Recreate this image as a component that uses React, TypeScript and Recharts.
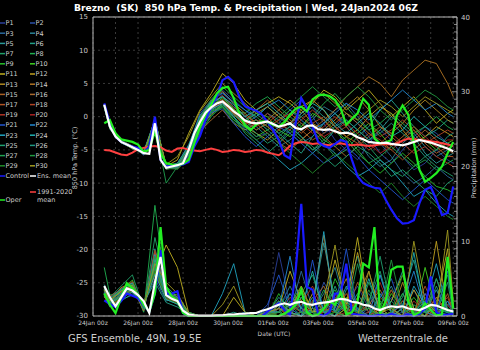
import React from 'react';
import { ComposedChart, Line, XAxis, YAxis, CartesianGrid, ReferenceLine } from 'recharts';

// 6-hourly steps (hours after 24Jan 00z) for the highlighted runs
const HOURS = Array.from({ length: 63 }, (_, i) => 12 + i * 6);
// members are stored 12-hourly
const MEMBER_HOURS = [12, 18, 30, 42, 54, 66, 78, 90, 102, 114, 126, 138, 150, 162, 174, 186, 198, 210, 222, 234, 246, 258, 270, 282, 294, 306, 318, 330, 342, 354, 366, 378, 384];

const DAY_TICKS = [0, 24, 48, 72, 96, 120, 144, 168, 192, 216, 240, 264, 288, 312, 336, 360, 384];
const DATE_LABELS = ['24Jan 00z', '26Jan 00z', '28Jan 00z', '30Jan 00z', '01Feb 00z', '03Feb 00z', '05Feb 00z', '07Feb 00z', '09Feb 00z'];
const TEMP_TICKS = [-30, -25, -20, -15, -10, -5, 0, 5, 10, 15];
const PRECIP_TICKS = Array.from({ length: 41 }, (_, i) => i);

const MEMBER_COLORS = [
  '#2a3f9a', '#2a50a8', '#2a6a9c', '#2a8496', '#2a9a98', '#22a088', '#20a068', '#20b050', '#28c02a', '#40d020',
  '#c0b020', '#c0a020', '#b08a22', '#b07424', '#a86024', '#a86a30', '#b05424', '#b04424', '#b03424', '#a82222',
  '#2256d0', '#2288d0', '#20a4c0', '#20b0b0', '#20a070', '#209880', '#20a050', '#209840', '#208a28', '#a09a20',
];

// 850 hPa temperature, highlighted runs (6-hourly)
const T_CTRL = [2.0, -1.0, -3.0, -3.8, -4.2, -4.5, -4.7, -5.5, -4.5, 0.0, -6.5, -7.5, -7.4, -7.3, -7.2, -6.8, -4.5, -2.9, -0.5, 1.5, 3.0, 5.5, 6.0, 5.2, 3.0, 1.6, 1.2, 0.9, 0.3, -0.8, -2.0, -3.5, -5.8, -6.3, -1.0, 2.8, 1.3, -1.5, -3.8, -4.4, -4.7, -4.1, -3.5, -3.8, -6.5, -9.0, -10.0, -10.4, -10.7, -10.8, -12.5, -14.0, -15.3, -16.1, -16.0, -15.6, -13.0, -11.0, -10.6, -12.5, -14.8, -14.5, -10.5];
const T_OPER = [-1.0, -0.5, -2.5, -3.4, -3.6, -3.8, -4.2, -5.3, -5.0, -2.2, -5.5, -7.0, -7.2, -7.3, -7.1, -6.5, -4.0, -1.5, 0.3, 1.8, 3.5, 4.3, 4.5, 2.8, 0.5, -1.3, -2.0, -1.2, -0.7, -0.8, -1.2, -1.5, -0.8, 0.3, 1.2, 1.5, 0.8, 2.6, 3.2, 3.3, 3.1, 2.5, 1.2, -1.2, -0.3, 0.5, 2.7, 1.8, -3.3, -4.0, -3.9, -3.5, 0.2, 1.7, 0.3, -4.0, -8.0, -9.8, -9.2, -8.5, -7.5, -5.5, -3.8];
const T_MEAN = [1.8, -1.5, -3.0, -3.8, -4.2, -4.6, -5.0, -5.5, -5.6, -1.0, -6.5, -7.7, -7.5, -7.3, -7.0, -5.0, -2.5, -0.8, 0.6, 1.4, 2.0, 2.3, 1.6, 0.8, 0.2, -0.6, -0.9, -1.0, -0.9, -0.7, -1.1, -1.5, -1.3, -1.0, -1.7, -1.9, -1.4, -1.3, -1.9, -2.0, -1.9, -2.2, -2.5, -2.4, -2.6, -3.1, -3.4, -3.8, -3.9, -4.0, -3.9, -4.1, -4.2, -4.3, -4.1, -3.8, -3.5, -3.7, -3.9, -4.2, -4.5, -4.8, -5.2];
const T_CLIM = [-5.0, -5.1, -5.4, -5.7, -5.8, -5.4, -4.9, -4.7, -4.5, -4.4, -4.6, -5.1, -5.3, -4.8, -4.7, -5.0, -5.1, -5.2, -5.0, -4.8, -5.0, -5.3, -5.2, -5.0, -5.1, -5.3, -5.2, -5.0, -5.1, -5.4, -5.6, -5.8, -5.2, -4.4, -4.0, -3.8, -3.9, -4.1, -4.0, -4.2, -4.3, -4.1, -4.0, -4.2, -4.3, -4.2, -4.3, -4.4, -4.3, -4.2, -4.1, -4.2, -4.0, -3.6, -3.3, -3.4, -3.5, -3.6, -3.7, -3.8, -4.0, -4.2, -4.4];

// precipitation (mm), highlighted runs (6-hourly)
const P_CTRL = [2.1, 1.6, 1.2, 2.0, 3.0, 2.7, 2.4, 1.4, 0.6, 3.0, 8.8, 3.0, 3.0, 3.3, 0.4, 0, 0, 0, 0, 0, 0, 0, 0, 0, 0, 0, 0, 0, 0, 0.6, 1.2, 1.7, 0.8, 0.1, 6.0, 15.0, 3.9, 3.5, 0.3, 0, 0.5, 3.0, 3.0, 7.0, 0.3, 0.2, 0.1, 0, 0, 0.2, 0, 0.3, 0, 0, 0.2, 0, 0.3, 1.0, 5.3, 0.5, 0.1, 0.2, 0.3];
const P_OPER = [3.0, 1.5, 0.4, 2.5, 4.4, 3.7, 2.8, 1.5, 0.6, 3.0, 11.9, 3.9, 2.6, 2.0, 0.4, 0, 0, 0, 0, 0, 0, 0, 0, 0, 0, 0, 0, 0, 0, 0, 0, 0, 0.3, 0.8, 1.5, 3.5, 0.5, 0, 0.2, 1.0, 2.0, 1.5, 3.2, 0.2, 0.5, 2.0, 7.0, 6.5, 11.9, 0.3, 2.0, 6.2, 6.6, 6.6, 2.0, 0.1, 0.5, 1.7, 0.8, 0.1, 0.2, 7.9, 1.0];
const P_MEAN = [4.0, 2.5, 1.3, 2.5, 3.7, 3.4, 2.8, 2.0, 0.4, 4.5, 7.9, 2.8, 2.3, 2.0, 0.7, 0.2, 0.1, 0.05, 0.05, 0.05, 0.1, 0.1, 0.2, 0.2, 0.3, 0.3, 0.4, 0.4, 0.7, 0.9, 1.2, 1.5, 1.7, 1.5, 1.8, 1.9, 1.6, 1.5, 1.7, 1.8, 1.9, 2.1, 2.3, 2.2, 1.9, 1.8, 1.5, 1.4, 1.0, 0.8, 1.1, 1.3, 1.2, 1.3, 1.0, 0.9, 0.8, 1.1, 1.5, 1.4, 1.1, 0.8, 0.6];

// 850 hPa temperature, members P1..P30 (12-hourly)
const TEMP_MEMBERS = [
  [1.5, -1.8, -3.6, -4.4, -5.8, -1.5, -7.5, -7.8, -6.0, -2.0, 1.0, 3.5, 2.0, -1.5, -3.0, -2.5, -4.0, -2.0, 0.5, 1.5, -1.0, -3.5, -5.0, -6.5, -4.0, -2.0, -3.5, -6.0, -8.0, -7.0, -5.0, -6.5, -7.0],
  [1.9, -1.2, -3.9, -4.8, -5.2, -0.5, -7.9, -7.0, -4.5, 0.5, 2.5, 4.0, 2.5, 1.0, -0.5, -2.0, -1.0, 1.0, 2.5, 0.0, -2.5, -1.5, 0.5, -1.0, -3.0, -5.5, -7.0, -5.0, -3.0, -1.5, -2.5, -4.0, -4.5],
  [1.6, -1.6, -3.7, -4.5, -5.6, -2.0, -7.6, -7.5, -5.5, -1.5, 0.5, 1.5, -0.5, -2.0, -1.0, 0.5, -0.5, -2.5, -4.0, -3.0, -1.0, 1.0, 2.0, 0.0, -2.0, -4.0, -6.0, -8.5, -10.0, -9.0, -7.5, -9.0, -9.5],
  [1.7, -1.4, -3.9, -4.7, -5.4, -0.8, -7.8, -7.2, -4.8, -0.5, 2.0, 3.0, 1.5, 0.0, -1.5, -3.0, -4.5, -3.5, -2.0, -0.5, 1.5, 0.5, -1.5, -3.5, -6.0, -7.5, -6.5, -4.0, -2.5, -4.5, -6.0, -5.0, -4.0],
  [1.8, -1.3, -3.8, -4.6, -5.5, -1.2, -7.3, -7.6, -5.8, -1.2, 1.2, 2.0, 0.5, -1.0, 0.0, 1.5, 0.0, -1.5, -3.0, -5.0, -4.0, -2.0, -0.5, -2.0, -3.5, -2.0, 0.0, -1.5, -3.0, -5.5, -7.0, -6.0, -5.5],
  [1.4, -1.9, -4.0, -4.4, -5.7, -0.3, -7.7, -7.1, -4.2, 0.0, 2.2, 3.0, 1.0, -0.5, -2.0, -1.0, -2.5, -4.0, -5.5, -3.0, -1.0, 0.5, -1.0, -3.0, -1.5, 1.0, 2.5, 0.5, -1.5, -3.0, -2.0, -0.5, -1.0],
  [1.9, -1.1, -3.6, -4.9, -5.3, -1.7, -7.4, -7.9, -6.3, -2.5, 0.0, 1.8, 0.0, -2.5, -4.0, -5.5, -4.0, -2.5, -1.0, -2.0, -4.0, -6.0, -5.0, -3.0, -4.5, -6.5, -8.0, -9.0, -7.5, -6.0, -7.5, -8.5, -9.0],
  [1.6, -1.7, -3.8, -4.6, -5.5, -0.6, -7.6, -7.4, -5.2, -1.0, 1.8, 2.5, 1.0, 0.5, 2.0, 3.0, 1.5, 0.0, -1.5, 0.0, 2.0, 3.5, 1.5, -0.5, -2.0, -1.0, 0.5, -1.0, -2.5, -1.5, 0.0, -1.5, -2.0],
  [1.7, -1.5, -3.7, -4.5, -5.6, -1.4, -7.8, -7.5, -5.6, -1.8, 0.8, 1.5, -0.5, -1.5, -3.0, -2.0, -0.5, 1.0, 0.0, -1.5, -3.5, -4.5, -3.0, -5.0, -7.0, -8.5, -7.0, -5.5, -7.0, -9.0, -10.5, -11.0, -11.5],
  [1.5, -1.6, -3.9, -4.7, -5.4, -0.9, -7.7, -7.3, -4.9, -0.6, 1.6, 2.8, 1.2, -0.8, 0.5, 0.0, -2.0, -3.0, -1.5, 0.5, -0.5, -2.0, -4.0, -2.5, -1.0, -2.5, -4.5, -3.0, -1.5, -3.5, -5.0, -4.0, -3.5],
  [1.8, -1.4, -3.7, -4.5, -5.5, -0.7, -7.5, -6.5, -2.5, 1.0, 3.5, 6.5, 5.0, 2.5, 1.0, 2.0, 3.0, 2.0, 0.5, 2.0, 4.0, 3.0, 1.0, 2.5, 4.0, 2.0, 0.0, 1.5, 3.0, 1.0, -1.0, 0.5, 1.0],
  [1.6, -1.5, -3.8, -4.8, -5.3, -1.1, -7.4, -7.7, -5.7, -1.6, 0.3, 2.0, 0.5, -1.5, -2.5, -3.5, -2.0, 0.0, 1.5, 2.5, 1.0, -1.5, -3.0, -2.0, 0.0, 1.5, 0.5, -2.0, -4.0, -3.0, -1.5, -2.5, -3.0],
  [1.9, -1.3, -3.6, -4.4, -5.7, -0.4, -7.6, -7.2, -4.6, -0.2, 2.4, 3.8, 2.0, 0.5, -1.0, -0.5, 1.0, 2.5, 1.0, -1.0, -2.0, -0.5, 1.5, 3.0, 1.0, -1.5, -2.5, -1.0, 1.0, 2.5, 1.0, -0.5, -1.0],
  [1.7, -1.7, -3.9, -4.6, -5.5, -1.3, -7.9, -7.6, -5.4, -1.4, 1.0, 2.2, 0.2, -1.0, -0.5, -1.5, -3.0, -4.5, -3.5, -2.0, -0.5, 1.0, 3.0, 4.5, 6.0, 5.0, 3.0, 5.5, 7.0, 8.5, 8.0, 5.0, 3.0],
  [1.5, -1.8, -3.7, -4.5, -5.6, -0.8, -7.3, -7.4, -5.1, -0.9, 1.5, 2.6, 1.0, -0.5, 1.0, 2.5, 1.0, -0.5, -2.0, -3.5, -2.5, -1.0, 0.5, -1.0, -2.5, -4.0, -5.0, -3.5, -2.0, -4.0, -5.5, -4.5, -4.0],
  [1.8, -1.2, -3.8, -4.7, -5.4, -1.6, -7.7, -7.8, -6.1, -2.2, -0.5, 1.0, -1.0, -2.0, -1.0, -2.5, -4.0, -5.0, -3.5, -2.0, -3.0, -4.5, -6.0, -4.5, -3.0, -1.5, -3.0, -4.5, -3.5, -2.0, -3.5, -5.0, -5.5],
  [1.6, -1.4, -3.6, -4.6, -5.5, -0.6, -7.5, -7.3, -5.0, -0.7, 1.7, 2.4, 0.6, -0.8, -2.0, -1.0, 0.5, -1.0, -2.5, -1.0, 0.0, -1.5, -3.0, -4.0, -2.5, -3.5, -5.0, -6.5, -5.0, -3.5, -4.5, -6.0, -6.0],
  [1.9, -1.6, -3.9, -4.5, -5.6, -1.0, -7.6, -7.1, -4.7, -0.4, 1.9, 3.2, 1.4, 0.2, -1.0, 0.5, -1.0, -2.0, -0.5, 1.0, -0.5, -2.5, -1.5, 0.5, -1.0, -3.0, -2.0, -0.5, -2.0, -4.0, -3.0, -2.0, -2.5],
  [1.7, -1.5, -3.7, -4.6, -5.4, -1.2, -7.4, -7.5, -5.3, -1.1, 1.3, 2.1, 0.4, -1.2, -0.5, -1.5, -0.5, 0.5, -1.0, -2.5, -1.5, 0.0, -1.5, -3.5, -5.0, -4.0, -2.5, -4.0, -5.5, -4.5, -6.0, -7.0, -7.5],
  [1.6, -1.3, -3.8, -4.8, -5.5, -0.9, -7.7, -7.4, -5.1, -0.8, 1.5, 2.5, 0.9, -0.6, -1.5, -0.5, -2.0, -1.0, 0.0, -1.5, -3.0, -2.0, -1.0, -2.5, -4.0, -5.5, -4.5, -3.0, -1.5, -3.0, -4.5, -3.5, -3.5],
  [1.8, -1.6, -3.9, -4.5, -5.7, -1.5, -7.8, -7.7, -5.9, -2.0, 0.6, 1.2, -1.0, -3.0, -4.5, -3.0, -1.5, -2.5, -4.0, -5.5, -7.0, -6.0, -4.5, -6.0, -8.0, -9.5, -11.0, -12.5, -11.0, -9.5, -11.0, -12.5, -13.0],
  [1.5, -1.7, -3.6, -4.6, -5.4, -0.7, -7.4, -7.0, -4.4, 0.2, 2.3, 3.6, 2.2, 1.0, 0.0, 1.5, 2.5, 1.0, -0.5, -2.0, -1.0, 0.5, 2.0, 1.0, -0.5, 1.0, 2.5, 4.0, 2.5, 1.0, 2.0, 0.5, 0.0],
  [1.7, -1.4, -3.7, -4.7, -5.6, -1.1, -7.6, -7.5, -5.4, -1.3, 1.1, 2.0, 0.0, -1.8, -3.5, -5.0, -6.5, -8.0, -7.0, -5.5, -4.0, -5.5, -7.5, -9.0, -8.0, -6.5, -8.0, -10.0, -12.0, -11.0, -13.0, -14.5, -15.0],
  [1.6, -1.5, -3.8, -4.5, -5.5, -0.5, -7.5, -7.2, -4.8, -0.3, 2.1, 3.0, 1.8, 0.0, 1.0, 2.0, 0.5, -1.0, 0.5, 2.0, 1.0, -1.0, -2.5, -1.0, 0.5, -1.0, -3.0, -2.0, 0.0, -1.5, -3.0, -4.0, -4.5],
  [1.9, -1.2, -3.9, -4.6, -5.3, -1.3, -7.9, -7.6, -5.5, -1.5, 0.9, 1.8, 0.3, -1.0, -2.5, -4.0, -3.0, -1.5, -3.0, -4.5, -6.0, -7.5, -6.0, -4.5, -5.5, -7.0, -9.0, -8.0, -9.5, -11.0, -12.0, -10.0, -9.5],
  [1.7, -1.6, -3.7, -4.7, -5.6, -0.8, -7.6, -7.3, -5.1, -0.9, 1.4, 2.4, 0.8, -0.5, 0.5, -1.0, -2.5, -1.5, 0.0, 1.5, 0.0, -1.5, -0.5, -2.0, -3.5, -2.5, -1.0, -2.5, -4.0, -6.0, -5.0, -3.0, -2.5],
  [1.6, -1.4, -3.8, -4.5, -5.4, -1.4, -10.0, -7.5, -5.6, -1.9, 0.7, 1.6, -0.2, -1.6, -0.5, -2.0, -3.5, -2.0, -3.5, -5.0, -3.5, -2.0, -3.5, -5.5, -7.0, -6.0, -4.5, -6.0, -7.5, -6.5, -8.0, -7.0, -6.5],
  [1.8, -1.5, -3.9, -4.8, -5.5, -0.6, -7.4, -7.1, -4.6, -0.1, 2.6, 4.5, 3.0, 1.5, 0.0, -1.5, 0.0, 1.5, 3.0, 4.5, 3.0, 1.5, 3.0, 4.5, 3.0, 1.0, -0.5, 1.0, 2.5, 4.0, 3.0, 1.5, 1.0],
  [1.5, -1.7, -3.6, -4.4, -5.7, -1.8, -7.8, -7.9, -6.2, -2.4, 0.2, 1.4, -0.8, -2.2, -3.5, -2.5, -4.0, -5.5, -7.0, -8.5, -7.0, -5.5, -7.0, -8.5, -10.0, -11.5, -10.0, -12.0, -13.5, -12.0, -13.5, -15.0, -15.5],
  [1.8, -1.3, -3.8, -4.6, -5.4, -0.9, -7.2, -6.0, -3.0, 0.8, 3.0, 5.0, 3.5, 2.0, 0.5, 1.5, 0.0, -1.0, 1.0, 2.5, 3.5, 2.0, 0.5, -0.5, 1.0, 2.5, 1.5, 0.0, 1.5, 3.0, 2.0, 1.0, 0.5],
];

// precipitation (mm), members P1..P30 (12-hourly)
const PRECIP_MEMBERS = [
  [3.0, 2.0, 2.5, 3.5, 1.0, 6.5, 2.5, 2.0, 0.3, 0, 0, 0, 0, 0, 0, 0.8, 8.5, 1.5, 0.5, 2.5, 0.5, 0, 1.5, 4.0, 1.0, 0.2, 2.5, 0.5, 0, 1.5, 3.5, 0.5, 0.2],
  [3.8, 1.5, 3.0, 4.0, 0.8, 7.5, 3.0, 1.5, 0.2, 0, 0, 0, 0, 0, 0, 0.2, 1.5, 3.0, 0.5, 0, 4.5, 2.0, 0.5, 0, 1.0, 5.5, 1.0, 0, 0.5, 2.0, 0.5, 1.5, 0.5],
  [2.5, 2.5, 2.0, 3.0, 1.5, 5.0, 2.0, 2.5, 0.5, 0, 0, 0, 0, 0.3, 0, 0.5, 2.0, 0.5, 6.0, 1.0, 0, 2.5, 0.5, 1.5, 3.0, 0.5, 0, 0.5, 3.5, 0.5, 0, 2.0, 1.0],
  [3.2, 1.8, 2.8, 3.8, 1.2, 9.0, 3.5, 1.8, 0.1, 0, 0, 0, 0, 0, 0, 0, 1.0, 4.0, 1.0, 0.5, 3.0, 6.5, 1.0, 0, 0.5, 1.5, 4.0, 0.5, 0, 1.0, 5.0, 0.5, 0.3],
  [4.2, 2.2, 3.5, 4.5, 0.6, 8.0, 2.8, 2.2, 0.4, 0, 0, 0, 0, 0, 0, 0.3, 2.5, 1.0, 0, 1.5, 9.8, 2.0, 0.5, 3.0, 0.5, 0, 2.0, 6.0, 1.0, 0.5, 0, 1.5, 2.0],
  [2.8, 1.2, 2.2, 2.8, 1.8, 4.5, 1.8, 1.2, 0.2, 0, 0, 0, 0.5, 0, 0, 1.0, 0.5, 0, 2.5, 0.5, 1.0, 0, 3.5, 8.0, 1.5, 0, 0.5, 2.5, 7.5, 1.0, 0, 0.5, 0.5],
  [3.5, 2.5, 4.0, 5.5, 1.0, 10.5, 4.0, 2.5, 0.3, 0, 0, 0, 0, 0, 0, 0, 1.5, 0.5, 3.0, 5.5, 0.5, 0, 1.0, 0.5, 2.0, 6.0, 0.5, 0, 1.5, 0.5, 4.0, 0.5, 0],
  [6.5, 2.8, 3.2, 4.2, 0.5, 14.8, 3.0, 2.0, 0.2, 0, 0, 0, 0, 0, 0, 0.5, 0, 2.0, 0.5, 0, 1.5, 3.5, 0.5, 0, 4.5, 1.0, 0, 3.0, 0.5, 0, 2.0, 5.5, 1.0],
  [3.0, 1.6, 2.6, 3.6, 1.4, 6.0, 2.2, 1.6, 0.1, 0, 0, 0, 0, 0, 0, 0, 3.0, 0.5, 0, 1.0, 0.5, 5.0, 2.0, 0.5, 0, 1.5, 3.5, 0.5, 2.5, 0.5, 0, 1.0, 0.5],
  [3.4, 2.4, 3.4, 4.8, 0.9, 7.0, 3.2, 2.8, 0.5, 0, 0, 0, 0, 0, 0, 0.2, 0.5, 1.5, 4.0, 0.5, 0, 0.5, 2.5, 0.5, 1.0, 0, 3.0, 1.0, 0, 6.5, 0.5, 0, 0.3],
  [2.6, 1.4, 2.4, 3.2, 1.6, 5.5, 9.5, 6.5, 0.4, 0, 0, 0, 2.5, 0.5, 0, 0.5, 1.0, 6.0, 2.0, 0.5, 1.0, 7.5, 1.5, 10.5, 1.0, 0, 2.0, 5.5, 1.0, 0, 1.5, 9.0, 1.5],
  [3.6, 2.0, 3.8, 4.4, 1.1, 7.8, 2.6, 2.4, 0.2, 0, 0, 0, 0, 0, 0, 0, 1.5, 0.5, 0, 3.0, 0.5, 0, 1.0, 8.5, 2.0, 0, 0.5, 0, 3.5, 1.0, 10.0, 0.5, 0.5],
  [3.1, 1.7, 2.9, 3.4, 1.3, 6.8, 2.4, 1.9, 0.3, 0, 0, 0, 0, 0, 0, 0.4, 0, 1.0, 3.5, 0.5, 0, 2.0, 5.0, 0.5, 0, 1.0, 0, 4.5, 0.5, 0, 2.5, 0.5, 0.2],
  [2.9, 2.3, 3.1, 3.9, 0.7, 8.5, 2.9, 2.1, 0.2, 0, 0, 0, 0, 0, 0, 0.6, 2.0, 0.5, 0, 1.5, 10.8, 0.5, 0, 2.5, 6.0, 0.5, 0, 1.0, 0.5, 3.0, 0.5, 0, 0.5],
  [3.3, 1.9, 2.7, 3.7, 1.5, 7.2, 3.3, 2.3, 0.1, 0, 0, 0, 0, 0, 0, 0.2, 0.5, 2.5, 1.0, 0, 0.5, 1.5, 0.5, 4.5, 1.5, 0, 0.5, 2.0, 0.5, 1.0, 0, 3.0, 0.5],
  [3.7, 2.1, 3.3, 4.1, 1.0, 7.6, 2.7, 2.0, 0.3, 0, 0, 0, 0, 0, 0, 0, 1.0, 0, 0.5, 2.0, 4.0, 0.5, 0, 0.5, 1.5, 3.5, 0.5, 0, 1.0, 0.5, 2.5, 0.5, 0.2],
  [2.7, 1.3, 2.5, 3.3, 1.7, 5.8, 2.3, 1.7, 0.2, 0, 0, 0, 0, 0, 0, 0.3, 0.5, 1.5, 0.5, 0, 1.0, 0.5, 3.0, 0.5, 0, 2.5, 1.0, 0, 0.5, 4.0, 0.5, 0, 1.0],
  [3.9, 2.6, 3.6, 4.6, 0.8, 8.8, 3.1, 2.6, 0.4, 0, 0, 0, 0, 0, 0, 0.1, 1.5, 0.5, 2.0, 0, 0.5, 3.0, 0.5, 0, 1.5, 0.5, 0, 2.0, 0.5, 0, 1.0, 2.5, 0.5],
  [3.0, 1.5, 2.8, 3.5, 1.2, 6.2, 2.5, 1.8, 0.1, 0, 0, 0, 0, 0, 0, 0.5, 0, 0.5, 1.5, 4.0, 0.5, 0, 0.5, 2.0, 0.5, 0, 3.5, 0.5, 0, 1.5, 0.5, 0, 0.5],
  [3.5, 2.2, 3.2, 4.0, 1.0, 7.4, 2.8, 2.2, 0.2, 0, 0, 0, 0, 0, 0, 0.2, 1.0, 0, 0.5, 1.0, 0.5, 2.5, 0.5, 0, 0.5, 4.5, 0.5, 0, 2.0, 0.5, 0, 1.5, 0.5],
  [3.2, 1.8, 3.0, 3.8, 1.1, 7.0, 2.9, 2.0, 0.3, 0, 0, 0, 0, 0, 0, 1.5, 5.5, 1.0, 0, 7.5, 0.5, 1.0, 9.0, 0.5, 0, 2.5, 5.0, 0.5, 0, 3.0, 0.5, 6.0, 1.0],
  [4.0, 2.4, 3.6, 4.4, 0.9, 8.2, 3.3, 2.5, 0.4, 0, 0, 0, 0, 0.5, 0, 0.3, 1.0, 8.0, 0.5, 0.5, 2.0, 0.5, 4.0, 1.0, 0, 5.5, 0.5, 1.5, 6.0, 0.5, 0, 2.0, 0.5],
  [2.8, 1.6, 2.6, 3.2, 1.5, 5.6, 2.2, 1.6, 0.1, 0, 0, 3.0, 7.0, 0.5, 0, 0.2, 2.0, 0.5, 0, 1.0, 11.3, 0.5, 1.5, 0.5, 0, 3.0, 0.5, 0, 4.0, 1.5, 7.0, 0.5, 0.3],
  [3.6, 2.0, 3.4, 4.2, 1.0, 7.6, 3.0, 2.2, 0.2, 0, 0, 0, 0, 0, 0, 0.6, 0.5, 3.0, 1.0, 6.0, 0.5, 0, 2.0, 0.5, 5.0, 0.5, 0, 1.0, 8.5, 0.5, 1.0, 0.5, 0.5],
  [3.0, 1.7, 2.7, 3.5, 1.4, 6.4, 2.6, 1.9, 0.2, 0, 0, 0, 0, 0, 0, 0, 1.5, 0.5, 2.5, 0.5, 0, 4.0, 0.5, 0, 1.5, 8.0, 1.0, 0, 0.5, 2.0, 0.5, 4.5, 0.5],
  [3.4, 2.1, 3.1, 3.9, 1.1, 7.2, 2.8, 2.1, 0.3, 0, 0, 0, 0, 0, 0, 0.4, 0.5, 1.5, 0, 2.5, 0.5, 1.0, 6.5, 0.5, 0, 0.5, 2.0, 0.5, 1.0, 0.5, 3.5, 0.5, 0.5],
  [3.1, 1.9, 2.9, 3.7, 1.3, 6.6, 2.7, 2.0, 0.2, 0, 0, 0, 0, 0, 0, 0.3, 2.0, 0, 0.5, 0.5, 3.5, 0.5, 0, 7.0, 1.0, 0, 0.5, 3.0, 0.5, 0, 5.0, 1.0, 0.5],
  [3.8, 2.3, 3.5, 4.3, 0.9, 8.0, 3.1, 2.4, 0.4, 0, 0, 0, 0, 0, 0, 0, 0.5, 2.0, 0.5, 0, 1.0, 2.5, 0.5, 0, 3.5, 0.5, 7.5, 1.0, 0, 0.5, 1.5, 0.5, 0.2],
  [2.9, 1.5, 2.5, 3.3, 1.6, 6.0, 2.4, 1.7, 0.1, 0, 0, 0, 0, 0, 0, 0.5, 0, 0.5, 3.0, 0.5, 0, 0.5, 1.5, 0.5, 0, 2.0, 0.5, 5.5, 0.5, 2.5, 0.5, 0, 1.5],
  [3.5, 2.0, 3.3, 4.1, 1.2, 7.0, 4.5, 3.0, 0.3, 0, 0, 1.5, 4.0, 0.5, 0, 0.5, 1.0, 0.5, 4.0, 0.5, 2.0, 9.5, 0.5, 0, 6.0, 0.5, 1.0, 0, 10.0, 2.0, 0.5, 11.5, 2.0],
];

const CTRL_COLOR = '#1a1aff';
const OPER_COLOR = '#22ee22';
const MEAN_COLOR = '#ffffff';
const CLIM_COLOR = '#ff4040';
const FRAME = '#b8b8b8';
const TEXT = '#cccccc';
const FONT = '"DejaVu Sans", sans-serif';

const data = HOURS.map((h, i) => {
  const row: Record<string, number | null> = {
    h,
    tCtrl: T_CTRL[i],
    tOper: T_OPER[i],
    tMean: T_MEAN[i],
    tClim: T_CLIM[i],
    pCtrl: P_CTRL[i],
    pOper: P_OPER[i],
    pMean: P_MEAN[i],
  };
  const j = MEMBER_HOURS.indexOf(h);
  TEMP_MEMBERS.forEach((vals, k) => {
    row[`t${k + 1}`] = j >= 0 ? vals[j] : null;
  });
  PRECIP_MEMBERS.forEach((vals, k) => {
    row[`p${k + 1}`] = j >= 0 ? vals[j] : null;
  });
  return row;
});

const PrecipTick = ({ x, y, payload }: any) => {
  const major = payload.value % 10 === 0;
  return (
    <g>
      <line x1={x - (major ? 5 : 3)} x2={x} y1={y} y2={y} stroke={FRAME} strokeWidth={0.7} />
      {major && (
        <text x={x + 4} y={y} dy={2.5} fill={TEXT} fontSize={7} fontFamily={FONT}>
          {payload.value}
        </text>
      )}
    </g>
  );
};

const dateLabel = (v: number) => (v % 48 === 0 ? DATE_LABELS[v / 48] : '');

function Legend() {
  const rows = MEMBER_COLORS.map((c, k) => {
    const col = k % 2;
    const y = 23 + Math.floor(k / 2) * 10.2;
    const x0 = col === 0 ? 0 : 30;
    return (
      <g key={k}>
        <line x1={x0} x2={x0 + 5} y1={y} y2={y} stroke={c} strokeWidth={1.5} />
        <text x={x0 + 5.5} y={y + 2.3} fill={TEXT} fontSize={6.5} fontFamily={FONT}>{`P${k + 1}`}</text>
      </g>
    );
  });
  return (
    <g>
      {rows}
      <line x1={0} x2={5} y1={176} y2={176} stroke={CTRL_COLOR} strokeWidth={1.5} />
      <text x={5.5} y={178.3} fill={TEXT} fontSize={6.5} fontFamily={FONT}>Control</text>
      <line x1={30} x2={36} y1={176} y2={176} stroke={MEAN_COLOR} strokeWidth={1.5} />
      <text x={37} y={178.3} fill={TEXT} fontSize={6.5} fontFamily={FONT}>Ens. mean</text>
      <line x1={30} x2={36} y1={192} y2={192} stroke={CLIM_COLOR} strokeWidth={1.5} />
      <text x={37} y={194.3} fill={TEXT} fontSize={6.5} fontFamily={FONT}>1991-2020</text>
      <text x={37} y={201.5} fill={TEXT} fontSize={6.5} fontFamily={FONT}>mean</text>
      <line x1={0} x2={5} y1={200} y2={200} stroke={OPER_COLOR} strokeWidth={1.5} />
      <text x={5.5} y={202.3} fill={TEXT} fontSize={6.5} fontFamily={FONT}>Oper</text>
    </g>
  );
}

export default function App() {
  return (
    <div style={{ position: 'fixed', left: 0, top: 0, width: 480, height: 350, background: '#000', overflow: 'hidden' }}>
      <ComposedChart width={480} height={350} data={data} margin={{ top: 17, right: 0, bottom: 0, left: 60 }}>
        <CartesianGrid yAxisId="t" stroke="#3a3a3a" strokeDasharray="2 3" />
        <XAxis
          type="number"
          dataKey="h"
          domain={[0, 388]}
          ticks={DAY_TICKS}
          interval={0}
          tickFormatter={dateLabel}
          tick={{ fill: TEXT, fontSize: 6, fontFamily: FONT }}
          tickLine={false}
          tickSize={0}
          tickMargin={5}
          height={34}
          axisLine={{ stroke: FRAME }}
        />
        <YAxis
          yAxisId="t"
          type="number"
          domain={[-30, 15]}
          ticks={TEMP_TICKS}
          interval={0}
          width={33}
          tick={{ fill: TEXT, fontSize: 7, fontFamily: FONT }}
          tickLine={false}
          tickSize={0}
          tickMargin={5}
          axisLine={{ stroke: FRAME }}
        />
        <YAxis
          yAxisId="p"
          orientation="right"
          type="number"
          domain={[0, 40]}
          ticks={PRECIP_TICKS}
          interval={0}
          width={23}
          tick={<PrecipTick />}
          tickLine={false}
          tickSize={0}
          tickMargin={0}
          axisLine={{ stroke: FRAME }}
        />
        <ReferenceLine yAxisId="t" y={15} stroke={FRAME} />

        {PRECIP_MEMBERS.map((_, k) => (
          <Line key={`p${k}`} yAxisId="p" type="linear" dataKey={`p${k + 1}`} stroke={MEMBER_COLORS[k]} strokeWidth={0.9}
            dot={false} activeDot={false} connectNulls isAnimationActive={false} />
        ))}
        {TEMP_MEMBERS.map((_, k) => (
          <Line key={`t${k}`} yAxisId="t" type="linear" dataKey={`t${k + 1}`} stroke={MEMBER_COLORS[k]} strokeWidth={0.9}
            dot={false} activeDot={false} connectNulls isAnimationActive={false} />
        ))}

        <Line yAxisId="p" dataKey="pCtrl" stroke={CTRL_COLOR} strokeWidth={2.2} dot={false} activeDot={false} isAnimationActive={false} />
        <Line yAxisId="p" dataKey="pOper" stroke={OPER_COLOR} strokeWidth={2.2} dot={false} activeDot={false} isAnimationActive={false} />
        <Line yAxisId="p" dataKey="pMean" stroke={MEAN_COLOR} strokeWidth={2.2} dot={false} activeDot={false} isAnimationActive={false} />
        <Line yAxisId="t" dataKey="tClim" stroke={CLIM_COLOR} strokeWidth={2} dot={false} activeDot={false} isAnimationActive={false} />
        <Line yAxisId="t" dataKey="tCtrl" stroke={CTRL_COLOR} strokeWidth={2.2} dot={false} activeDot={false} isAnimationActive={false} />
        <Line yAxisId="t" dataKey="tOper" stroke={OPER_COLOR} strokeWidth={2.2} dot={false} activeDot={false} isAnimationActive={false} />
        <Line yAxisId="t" dataKey="tMean" stroke={MEAN_COLOR} strokeWidth={2.2} dot={false} activeDot={false} isAnimationActive={false} />
      </ComposedChart>

      <svg width={480} height={350} style={{ position: 'absolute', left: 0, top: 0, pointerEvents: 'none' }}>
        <text x={246} y={10.5} textAnchor="middle" fill="#fff" fontSize={9.2} fontWeight="bold" fontFamily={FONT} style={{ whiteSpace: 'pre' }}>
          {'Brezno  (SK)  850 hPa Temp. & Precipitation | Wed, 24Jan2024 06Z'}
        </text>
        <Legend />
        <text transform="translate(77,158) rotate(-90)" textAnchor="middle" fill={TEXT} fontSize={6.5} fontFamily={FONT}>
          850 hPa Temp. (°C)
        </text>
        <text transform="translate(476,168) rotate(-90)" textAnchor="middle" fill={TEXT} fontSize={6.5} fontFamily={FONT}>
          Precipitation (mm)
        </text>
        <text x={274} y={336} textAnchor="middle" fill={TEXT} fontSize={6} fontFamily={FONT}>Date (UTC)</text>
        <text x={68} y={342} fill={TEXT} fontSize={10} fontFamily={FONT}>GFS Ensemble, 49N, 19.5E</text>
        <text x={448} y={342} textAnchor="end" fill={TEXT} fontSize={10} fontFamily={FONT}>Wetterzentrale.de</text>
      </svg>
    </div>
  );
}
